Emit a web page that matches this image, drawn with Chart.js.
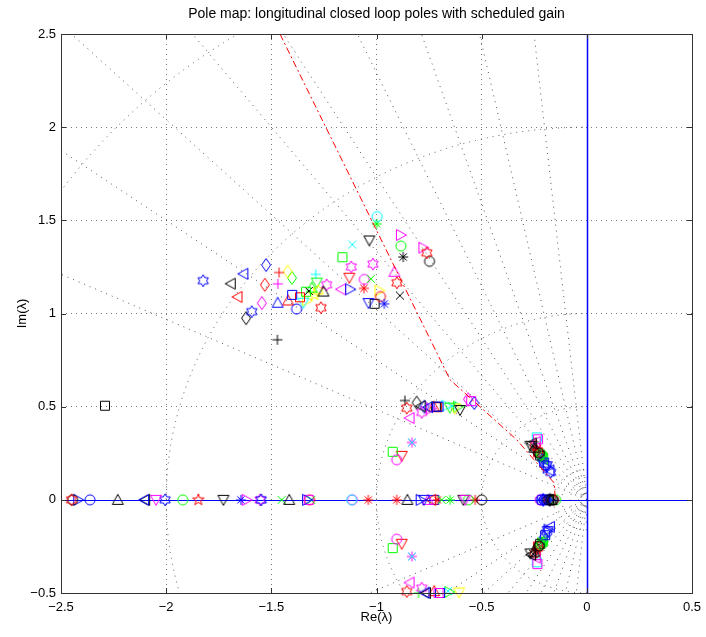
<!DOCTYPE html>
<html>
<head>
<meta charset="utf-8">
<script src="https://cdn.jsdelivr.net/npm/chart.js@4"></script>
<style>
  html, body { margin: 0; padding: 0; background: #fff; }
</style>
</head>
<body>
<canvas id="poles" width="706" height="637"></canvas>
<script>
// Closed loop poles per flight case. Rows are [case, Re, Im]; the case key is a
// MATLAB-style line spec (colour letter + marker letter).
const upperModePoles = [
  ['bh', -1.824, 1.176], ['k<', -1.693, 1.160], ['b<', -1.633, 1.213], ['r<', -1.661, 1.089],
  ['bd', -1.525, 1.260], ['rd', -1.531, 1.154], ['md', -1.545, 1.056], ['kd', -1.620, 0.975],
  ['bh', -1.593, 1.010], ['r+', -1.463, 1.220], ['m+', -1.469, 1.159], ['b^', -1.470, 1.058],
  ['r^', -1.420, 1.070], ['yd', -1.422, 1.225], ['gd', -1.402, 1.191], ['bs', -1.401, 1.100],
  ['bo', -1.380, 1.024], ['rs', -1.364, 1.087], ['gs', -1.335, 1.117], ['cv', -1.348, 1.058],
  ['kx', -1.322, 1.121], ['g^', -1.308, 1.139], ['yh', -1.277, 1.121], ['y>', -1.330, 1.070],
  ['yp', -1.295, 1.100], ['c+', -1.289, 1.210], ['gv', -1.284, 1.166], ['k^', -1.252, 1.118],
  ['mh', -1.237, 1.154], ['rh', -1.264, 1.031], ['cx', -1.115, 1.370], ['gs', -1.162, 1.302],
  ['mh', -1.120, 1.250], ['rv', -1.129, 1.192], ['m<', -1.169, 1.130], ['b>', -1.125, 1.130],
  ['mo', -1.058, 1.183], ['r*', -1.060, 1.135], ['gx', -1.027, 1.186], ['mh', -1.017, 1.265],
  ['bv', -1.038, 1.056], ['ks', -1.009, 1.052], ['y>', -0.986, 1.123], ['ro', -0.981, 1.091],
  ['b*', -0.963, 1.052], ['g*', -0.999, 1.481], ['co', -0.997, 1.520], ['kv', -1.034, 1.392],
  ['m^', -0.915, 1.224], ['rh', -0.903, 1.165], ['kx', -0.889, 1.096], ['m>', -0.884, 1.421],
  ['go', -0.884, 1.362], ['k*', -0.873, 1.303], ['m>', -0.777, 1.353], ['rh', -0.761, 1.326],
  ['ko', -0.748, 1.280], ['k+', -1.471, 0.859], ['ks', -2.291, 0.505]
];

const shortPeriodPoles = [
  ['k+', -0.865, 0.533], ['rh', -0.856, 0.492], ['m<', -0.843, 0.439], ['kd', -0.809, 0.522],
  ['mh', -0.785, 0.469], ['k<', -0.790, 0.502], ['bd', -0.772, 0.500], ['b<', -0.755, 0.497],
  ['m>', -0.740, 0.490], ['r^', -0.728, 0.500], ['ks', -0.718, 0.500], ['rs', -0.712, 0.497],
  ['bs', -0.705, 0.500], ['c>', -0.668, 0.505], ['gv', -0.652, 0.495], ['cx', -0.640, 0.505],
  ['yv', -0.628, 0.490], ['g>', -0.612, 0.500], ['kv', -0.603, 0.482], ['md', -0.565, 0.540],
  ['ms', -0.550, 0.530], ['bd', -0.535, 0.520],
  ['m<', -0.843, -0.444], ['mh', -0.785, -0.474], ['rh', -0.856, -0.492], ['g+', -0.800, -0.500],
  ['b<', -0.772, -0.498], ['k<', -0.765, -0.500], ['r^', -0.726, -0.490], ['ms', -0.705, -0.500],
  ['bs', -0.698, -0.500], ['cx', -0.660, -0.490], ['g>', -0.654, -0.494], ['yv', -0.607, -0.497]
];

const midPairPoles = [
  ['gs', -0.923, 0.258], ['mo', -0.904, 0.215], ['rv', -0.880, 0.236], ['m*', -0.832, 0.308], ['cx', -0.832, 0.308],
  ['gs', -0.923, -0.259], ['mo', -0.904, -0.211], ['rv', -0.880, -0.236], ['m*', -0.832, -0.304], ['cx', -0.832, -0.304]
];

const slowPairPoles = [
  ['cs', -0.238, 0.335], ['ms', -0.232, 0.325], ['k<', -0.262, 0.303], ['kv', -0.268, 0.290],
  ['kx', -0.255, 0.290], ['k^', -0.250, 0.280], ['ro', -0.245, 0.290], ['r*', -0.238, 0.272],
  ['m<', -0.243, 0.310], ['kd', -0.240, 0.262], ['rs', -0.232, 0.255], ['ko', -0.228, 0.250],
  ['go', -0.218, 0.245], ['gs', -0.212, 0.232], ['g*', -0.205, 0.222], ['bd', -0.212, 0.212],
  ['ks', -0.222, 0.238], ['k*', -0.215, 0.228], ['r>', -0.226, 0.262], ['g<', -0.208, 0.218],
  ['bs', -0.203, 0.200], ['bo', -0.196, 0.187], ['b>', -0.186, 0.172], ['b<', -0.178, 0.158],
  ['bh', -0.172, 0.148], ['bv', -0.190, 0.180],
  ['cs', -0.238, -0.335], ['ms', -0.235, -0.345], ['k<', -0.265, -0.295], ['kv', -0.268, -0.288],
  ['kx', -0.255, -0.290], ['k^', -0.250, -0.278], ['ro', -0.245, -0.285], ['r*', -0.238, -0.270],
  ['m<', -0.243, -0.310], ['kd', -0.240, -0.262], ['rs', -0.232, -0.250], ['ko', -0.228, -0.248],
  ['ks', -0.222, -0.236], ['k*', -0.215, -0.226], ['r>', -0.226, -0.258], ['g<', -0.208, -0.214],
  ['go', -0.218, -0.240], ['gs', -0.212, -0.228], ['g*', -0.205, -0.222], ['bd', -0.205, -0.200],
  ['bs', -0.198, -0.190], ['bo', -0.190, -0.175], ['b>', -0.182, -0.160], ['b<', -0.176, -0.145],
  ['bv', -0.186, -0.168]
];

// real poles: [case, Re]
const realPoles = [
  ['rh', -2.450], ['ko', -2.445], ['b>', -2.418], ['bo', -2.362], ['k^', -2.230], ['b<', -2.105],
  ['k<', -2.100], ['mv', -2.048], ['bh', -2.005], ['go', -1.921], ['rp', -1.847], ['kv', -1.728],
  ['b*', -1.645], ['m>', -1.617], ['mh', -1.553], ['bh', -1.548], ['gx', -1.451], ['k^', -1.415],
  ['b>', -1.330], ['ms', -1.322], ['ro', -1.318], ['gx', -1.310], ['co', -1.118], ['mo', -1.115],
  ['r*', -1.039], ['r*', -0.904], ['k^', -0.853], ['b>', -0.790], ['bv', -0.775], ['m^', -0.755],
  ['r<', -0.740], ['bs', -0.725], ['r*', -0.710], ['gx', -0.690], ['g*', -0.650], ['kv', -0.587],
  ['mv', -0.578], ['go', -0.563], ['r*', -0.531], ['ko', -0.500],
  ['mo', -0.222], ['bo', -0.218], ['bs', -0.212], ['bd', -0.208], ['bo', -0.204], ['b<', -0.200],
  ['bs', -0.196], ['bo', -0.192], ['b>', -0.188], ['ko', -0.184], ['ks', -0.180], ['kd', -0.176],
  ['ko', -0.172], ['k^', -0.168], ['ko', -0.164], ['ro', -0.158], ['ko', -0.160], ['go', -0.148]
];

// requirement boundary
const boundaryRe = [-1.459, -0.650, -0.333, -0.155, -0.150];
const boundaryIm = [2.5, 0.644, 0.322, 0.090, 0.0];

// s-plane grid
const dampingRatios = [0.1, 0.2, 0.3, 0.4, 0.5, 0.6, 0.7, 0.8, 0.9];
const naturalFreqs = [0.04, 0.08, 0.12, 0.16, 0.5, 1, 2, 3];

const xTicks = { min: -2.5, max: 0.5, step: 0.5 };
const yTicks = { min: -0.5, max: 2.5, step: 0.5 };

const titleText = 'Pole map: longitudinal closed loop poles with scheduled gain';

const colorOf = { b: '#0000ff', g: '#00ff00', r: '#ff0000', c: '#00ffff', m: '#ff00ff', y: '#ffff00', k: '#000000' };

function starPath(g, n, ro, ri) {
  for (let i = 0; i < 2 * n; i++) {
    const r = i % 2 ? ri : ro;
    const a = -Math.PI / 2 + i * Math.PI / n;
    const px = r * Math.cos(a), py = r * Math.sin(a);
    if (i) g.lineTo(px, py); else g.moveTo(px, py);
  }
  g.closePath();
}

function markerImage(shape, color) {
  const c = document.createElement('canvas');
  c.width = 18; c.height = 18;
  const g = c.getContext('2d');
  g.translate(9, 9);
  g.strokeStyle = color;
  g.lineWidth = 1;
  g.beginPath();
  const poly = pts => {
    g.moveTo(pts[0][0], pts[0][1]);
    pts.slice(1).forEach(p => g.lineTo(p[0], p[1]));
    g.closePath();
  };
  switch (shape) {
    case 'o': g.arc(0, 0, 5, 0, 2 * Math.PI); break;
    case 's': g.rect(-4.5, -4.5, 9, 9); break;
    case 'd': poly([[0, -6.5], [4.5, 0], [0, 6.5], [-4.5, 0]]); break;
    case '^': poly([[0, -5.5], [5.5, 4.5], [-5.5, 4.5]]); break;
    case 'v': poly([[0, 5.5], [5.5, -4.5], [-5.5, -4.5]]); break;
    case '<': poly([[-5.5, 0], [4.5, -5.5], [4.5, 5.5]]); break;
    case '>': poly([[5.5, 0], [-4.5, -5.5], [-4.5, 5.5]]); break;
    case '+': g.moveTo(-5, 0); g.lineTo(5, 0); g.moveTo(0, -5); g.lineTo(0, 5); break;
    case 'x': g.moveTo(-4, -4); g.lineTo(4, 4); g.moveTo(-4, 4); g.lineTo(4, -4); break;
    case '*':
      g.moveTo(-5, 0); g.lineTo(5, 0); g.moveTo(0, -5); g.lineTo(0, 5);
      g.moveTo(-3.6, -3.6); g.lineTo(3.6, 3.6); g.moveTo(-3.6, 3.6); g.lineTo(3.6, -3.6);
      break;
    case 'p': starPath(g, 5, 6, 2.4); break;
    case 'h': starPath(g, 6, 6, 3.46); break;
  }
  g.stroke();
  return c;
}

// one scatter dataset per flight case
const caseOrder = [];
const casePoints = {};
function addPoles(rows, withIm) {
  rows.forEach(r => {
    const key = r[0];
    if (!casePoints[key]) { casePoints[key] = []; caseOrder.push(key); }
    casePoints[key].push({ x: r[1], y: withIm ? r[2] : 0 });
  });
}
addPoles(realPoles, false);
addPoles(upperModePoles, true);
addPoles(shortPeriodPoles, true);
addPoles(midPairPoles, true);
addPoles(slowPairPoles, true);

const poleSets = caseOrder.map(key => ({
  label: key,
  data: casePoints[key],
  pointStyle: markerImage(key[1], colorOf[key[0]]),
  pointRadius: 6,
  showLine: false,
  clip: false
}));

const boundarySet = {
  label: 'boundary',
  data: boundaryRe.map((re, i) => ({ x: re, y: boundaryIm[i] })),
  showLine: true,
  borderColor: '#ff0000',
  borderWidth: 1,
  borderDash: [7, 3, 2, 3],
  pointRadius: 0,
  fill: false
};

const sgrid = {
  id: 'sgrid',
  beforeDatasetsDraw(chart) {
    const { ctx, chartArea: a, scales: { x, y } } = chart;
    const x0 = x.getPixelForValue(0), y0 = y.getPixelForValue(0);
    ctx.save();
    ctx.beginPath();
    ctx.rect(a.left, a.top, a.right - a.left, a.bottom - a.top);
    ctx.clip();
    ctx.strokeStyle = '#555';
    ctx.lineWidth = 1;
    ctx.setLineDash([1, 5]);
    dampingRatios.forEach(z => {
      const wd = Math.sqrt(1 - z * z);
      [1, -1].forEach(s => {
        ctx.beginPath();
        ctx.moveTo(x0, y0);
        ctx.lineTo(x.getPixelForValue(-5 * z), y.getPixelForValue(s * 5 * wd));
        ctx.stroke();
      });
    });
    naturalFreqs.forEach(wn => {
      const rx = x0 - x.getPixelForValue(-wn);
      const ry = y0 - y.getPixelForValue(wn);
      ctx.beginPath();
      ctx.ellipse(x0, y0, rx, ry, 0, Math.PI / 2, 3 * Math.PI / 2);
      ctx.stroke();
    });
    ctx.restore();

    // real axis
    ctx.save();
    ctx.lineWidth = 1;
    ctx.strokeStyle = 'rgb(0, 0, 255)';
    ctx.beginPath();
    ctx.moveTo(a.left, Math.round(y0) + 0.5);
    ctx.lineTo(a.right, Math.round(y0) + 0.5);
    ctx.stroke();
    ctx.restore();
  },
  afterDraw(chart) {
    const { ctx, chartArea: a, scales: { x, y } } = chart;
    const x0 = x.getPixelForValue(0);
    ctx.save();
    // imaginary axis
    ctx.strokeStyle = 'rgb(0, 0, 255)';
    ctx.lineWidth = 1.5;
    ctx.beginPath();
    ctx.moveTo(Math.round(x0) + 0.5, a.top);
    ctx.lineTo(Math.round(x0) + 0.5, a.bottom);
    ctx.stroke();

    // ticks inside the box, and the box itself
    ctx.strokeStyle = '#333';
    ctx.lineWidth = 1;
    ctx.beginPath();
    x.ticks.forEach(t => {
      const px = Math.round(x.getPixelForValue(t.value)) + 0.5;
      ctx.moveTo(px, a.bottom); ctx.lineTo(px, a.bottom - 5);
      ctx.moveTo(px, a.top); ctx.lineTo(px, a.top + 5);
    });
    y.ticks.forEach(t => {
      const py = Math.round(y.getPixelForValue(t.value)) + 0.5;
      ctx.moveTo(a.left, py); ctx.lineTo(a.left + 5, py);
      ctx.moveTo(a.right, py); ctx.lineTo(a.right - 5, py);
    });
    ctx.stroke();
    ctx.strokeRect(Math.round(a.left) + 0.5, Math.round(a.top) + 0.5,
      Math.round(a.right - a.left), Math.round(a.bottom - a.top));

    // title centred over the plot box
    ctx.fillStyle = '#000';
    ctx.font = '14px "Liberation Sans", Arial, sans-serif';
    ctx.textAlign = 'center';
    ctx.textBaseline = 'middle';
    ctx.fillText(titleText, (a.left + a.right) / 2, 14);
    ctx.restore();
  }
};

const tickFont = { family: 'Liberation Sans, Arial, sans-serif', size: 13 };
const minusSign = v => String(Math.round(v * 10) / 10).replace('-', '\u2212');
// dotted grid at the ticks, left out where the blue axes lie
const gridColor = c => (Math.abs(c.tick.value) < 1e-9 ? 'rgba(0,0,0,0)' : '#777');

new Chart(document.getElementById('poles'), {
  type: 'scatter',
  data: { datasets: [boundarySet, ...poleSets] },
  options: {
    responsive: false,
    animation: false,
    layout: { padding: { left: 0, right: 14, top: 34, bottom: 0 } },
    plugins: {
      legend: { display: false },
      tooltip: { enabled: false },
      title: { display: false }
    },
    scales: {
      x: {
        type: 'linear',
        min: xTicks.min, max: xTicks.max,
        ticks: { stepSize: xTicks.step, padding: 7, color: '#000', font: tickFont, callback: minusSign },
        grid: { color: gridColor, drawTicks: false },
        border: { display: false, dash: [1, 4] },
        title: { display: true, text: 'Re(\u03bb)', color: '#000', font: tickFont, padding: { top: 0, bottom: 12 } },
        afterFit(scale) {
          scale.height = 44;
          scale.paddingLeft = 0;
          scale.paddingRight = 0;
        }
      },
      y: {
        type: 'linear',
        min: yTicks.min, max: yTicks.max,
        ticks: { stepSize: yTicks.step, padding: 5, color: '#000', font: tickFont, callback: minusSign },
        grid: { color: gridColor, drawTicks: false },
        border: { display: false, dash: [1, 4] },
        title: { display: true, text: 'Im(\u03bb)', color: '#000', font: tickFont, padding: { top: 15, bottom: 0 } },
        afterFit(scale) {
          scale.width = 61;
          scale.paddingTop = 0;
          scale.paddingBottom = 0;
        }
      }
    }
  },
  plugins: [sgrid]
});
</script>
</body>
</html>
